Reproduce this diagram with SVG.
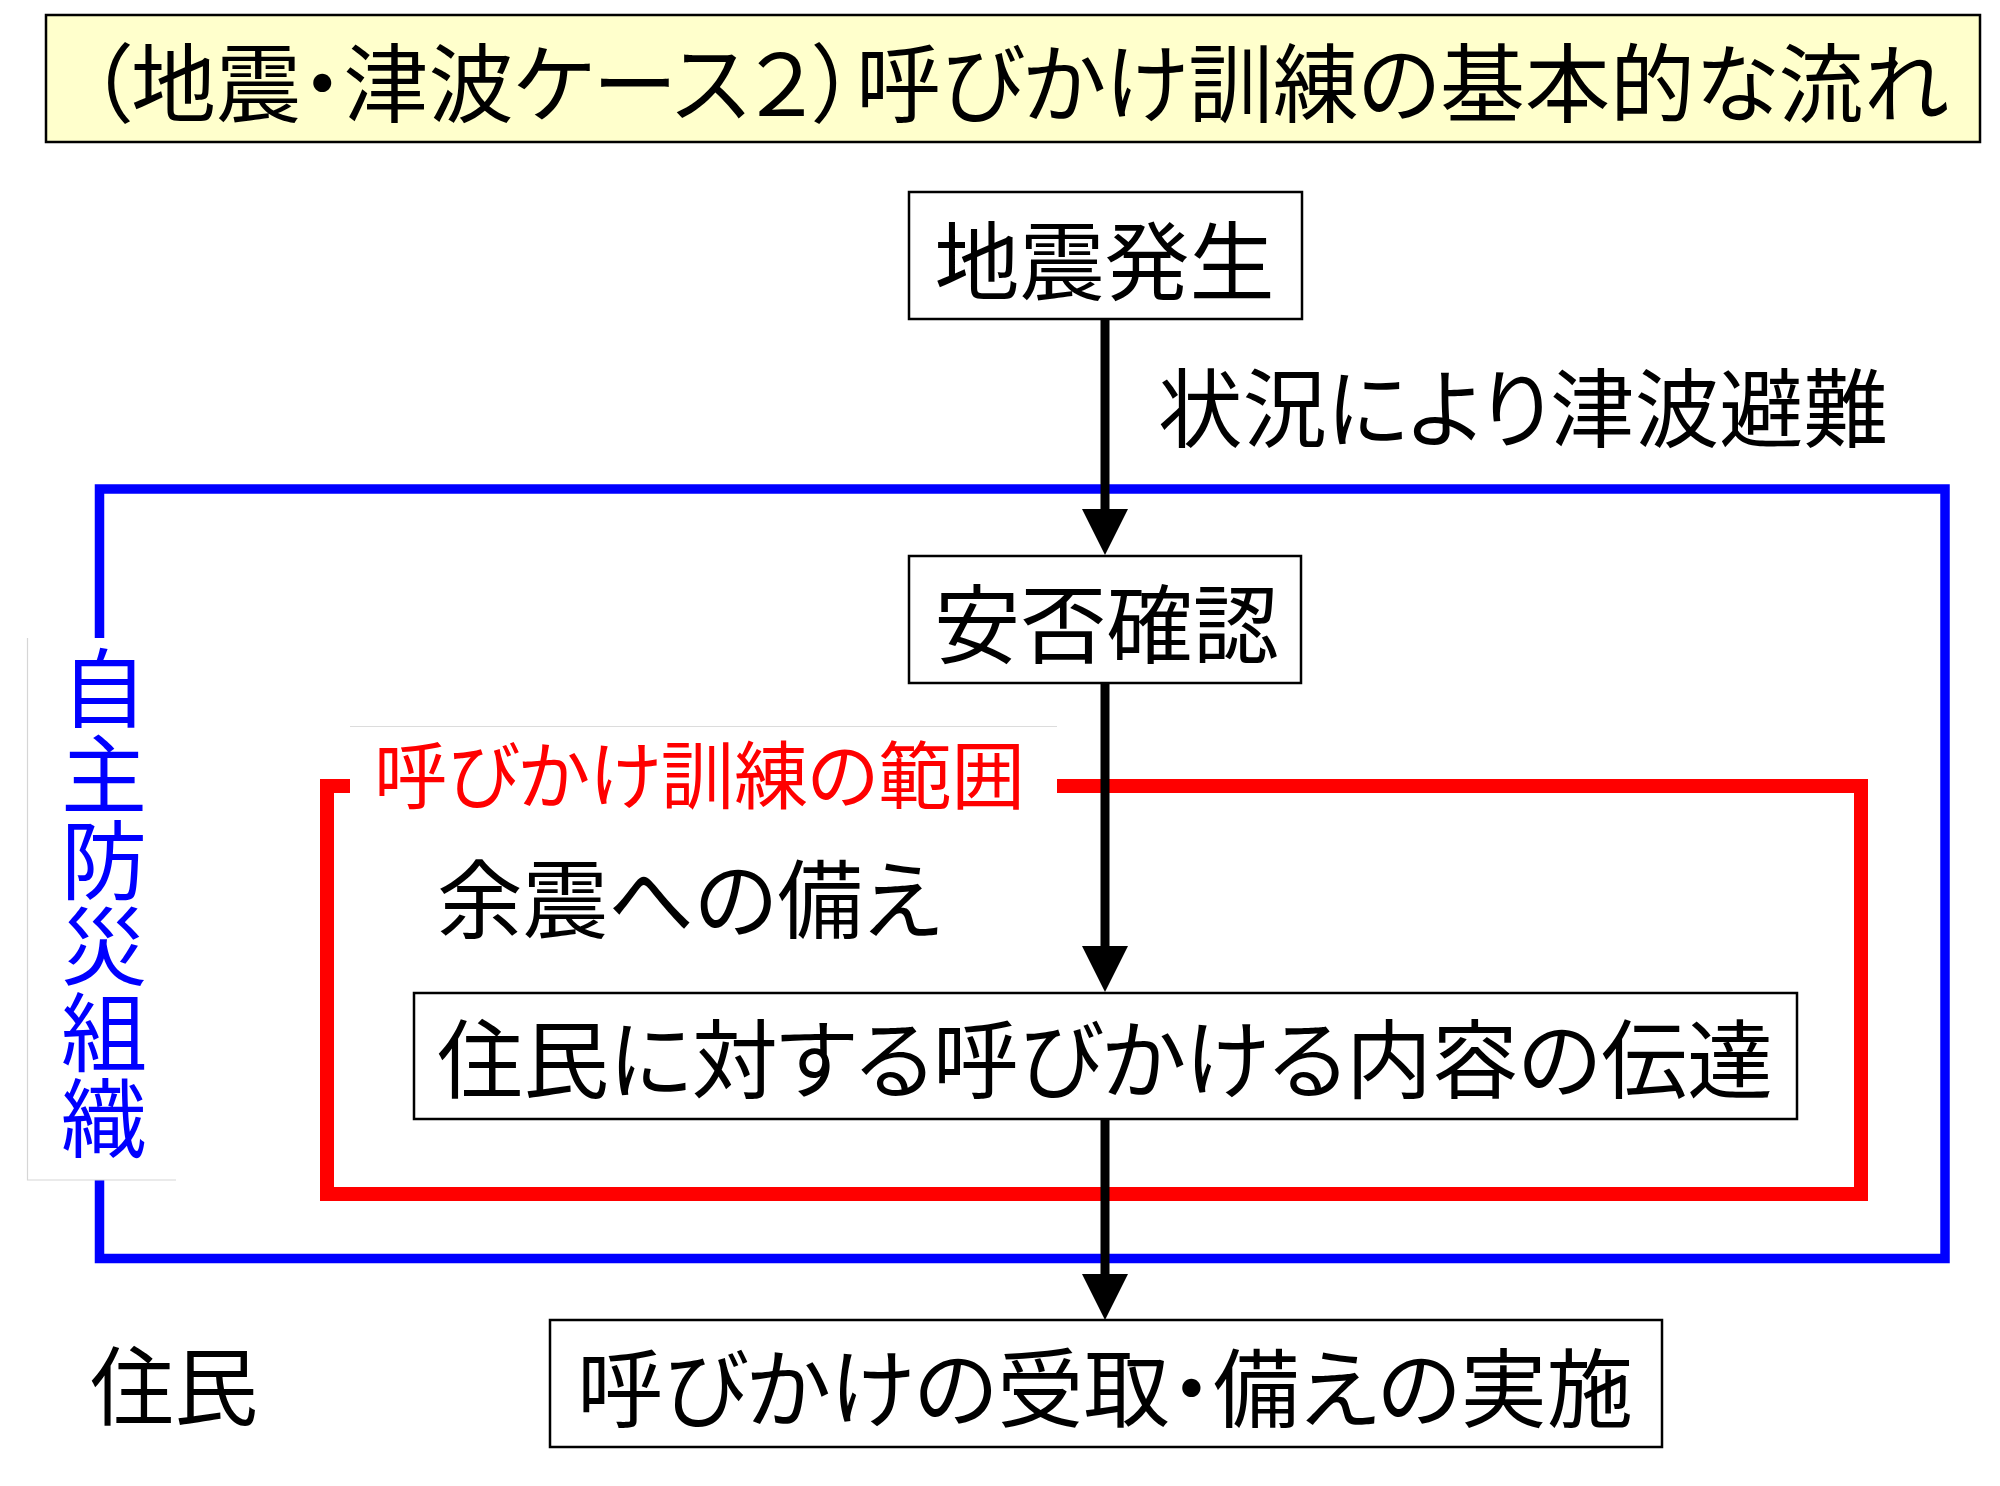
<svg xmlns="http://www.w3.org/2000/svg" width="2000" height="1486" viewBox="0 0 2000 1486">
<style>
text{font-family:"Noto Sans CJK JP","Noto Sans CJK SC",sans-serif;font-feature-settings:"palt";}
.t{font-size:86px;fill:#000;}
.box{fill:#fff;stroke:#000;stroke-width:2.5;}
.conn{stroke:#000;stroke-width:9;fill:none;}
.vert{writing-mode:vertical-rl;font-feature-settings:normal;}
</style>
<defs>
<marker id="ah" viewBox="0 0 46 46" refX="0" refY="23" markerWidth="46" markerHeight="46" markerUnits="userSpaceOnUse" orient="auto">
<path d="M0,0 L46,23 L0,46 z" fill="#000"/>
</marker>
</defs>
<rect width="2000" height="1486" fill="#fff"/>

<g id="title">
<rect x="46" y="15" width="1934" height="127" fill="#FFFFCC" stroke="#000" stroke-width="2.5"/>
<text class="t" x="1018.5" y="116" text-anchor="middle" textLength="1860" lengthAdjust="spacingAndGlyphs">（地震・津波ケース２）呼びかけ訓練の基本的な流れ</text>
</g>

<g id="group-jishubousai">
<rect x="99.5" y="489" width="1845.5" height="769.5" fill="none" stroke="#0000FF" stroke-width="9.5"/>
<rect x="27" y="638" width="149" height="542" fill="#fff"/>
<path d="M27.5,638 V1180 H176" fill="none" stroke="#d6d6d6" stroke-width="1.2"/>
<text class="vert" writing-mode="tb" font-size="86" fill="#0000FF" x="104" y="645">自主防災組織</text>
</g>

<g id="group-yobikake">
<rect x="327" y="786" width="1534" height="408" fill="none" stroke="#FF0000" stroke-width="14"/>
<rect x="350" y="726" width="707" height="100" fill="#fff"/>
<line x1="350" y1="726.5" x2="1057" y2="726.5" stroke="#dcdcdc" stroke-width="1.2"/>
<text font-size="74" fill="#FF0000" x="699.5" y="803" text-anchor="middle" textLength="651" lengthAdjust="spacingAndGlyphs">呼びかけ訓練の範囲</text>
</g>

<g id="label-tsunami">
<text class="t" x="1523" y="441" text-anchor="middle" textLength="730" lengthAdjust="spacingAndGlyphs">状況により津波避難</text>
</g>

<g id="label-yoshin">
<text class="t" x="688.5" y="932" text-anchor="middle" textLength="503" lengthAdjust="spacingAndGlyphs">余震への備え</text>
</g>

<g id="label-jumin">
<text class="t" x="174" y="1419" text-anchor="middle" textLength="168" lengthAdjust="spacingAndGlyphs">住民</text>
</g>

<g id="node-jishin">
<rect class="box" x="909" y="192" width="393" height="127"/>
<text class="t" x="1104.5" y="294" text-anchor="middle" textLength="340" lengthAdjust="spacingAndGlyphs">地震発生</text>
</g>

<g id="node-anpi">
<rect class="box" x="909" y="556" width="392" height="127"/>
<text class="t" x="1106.5" y="657" text-anchor="middle" textLength="345" lengthAdjust="spacingAndGlyphs">安否確認</text>
</g>

<g id="node-dentatsu">
<rect class="box" x="414" y="993" width="1383" height="126"/>
<text class="t" x="1105" y="1092" text-anchor="middle" textLength="1336" lengthAdjust="spacingAndGlyphs">住民に対する呼びかける内容の伝達</text>
</g>

<g id="node-jisshi">
<rect class="box" x="550" y="1320" width="1112" height="127"/>
<text class="t" x="1105" y="1421" text-anchor="middle" textLength="1056" lengthAdjust="spacingAndGlyphs">呼びかけの受取・備えの実施</text>
</g>

<g id="connectors">
<line class="conn" x1="1105" y1="319" x2="1105" y2="509" marker-end="url(#ah)"/>
<line class="conn" x1="1105" y1="683" x2="1105" y2="946" marker-end="url(#ah)"/>
<line class="conn" x1="1105" y1="1119" x2="1105" y2="1274" marker-end="url(#ah)"/>
</g>
</svg>
